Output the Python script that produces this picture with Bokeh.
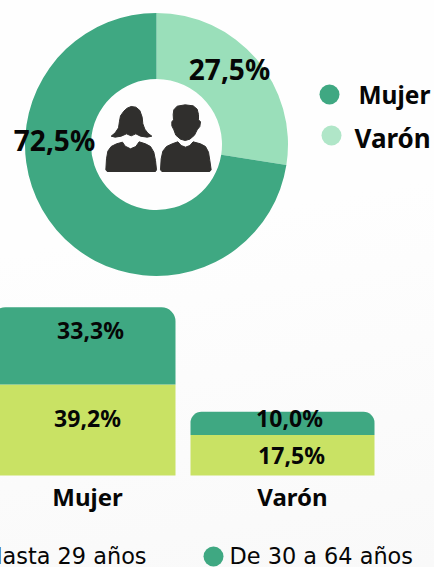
from math import pi
from bokeh.plotting import figure
from bokeh.layouts import column
from bokeh.models import Range1d
from bokeh.core.properties import value
from bokeh.embed import file_html
from bokeh.resources import INLINE

# ---- data ----
donut_labels = ["Mujer", "Varón"]
donut_values = [72.5, 27.5]
bar_categories = ["Mujer", "Varón"]
adult_values = [33.3, 10.0]     # De 30 a 64 años
young_values = [39.2, 17.5]     # Hasta 29 años
age_labels = ["Hasta 29 años", "De 30 a 64 años"]

DARK = "#3fa882"
LIGHT = "#9adfba"
LEG_LIGHT = "#b0e6c8"
LIME = "#c9e264"
INK = "#060606"
ICON = "#302f2d"
NOTO = "Noto Sans"
DEJA = "DejaVu Sans"
BLEED = 20   # panel starts this far left of the window, as the reference is cropped there


def fmt(v):
    return f"{v:.1f}%".replace(".", ",")


def base(h, xr, yr):
    p = figure(width=434 + BLEED, height=h, x_range=xr, y_range=yr, output_backend="svg",
               toolbar_location=None, min_border=0, background_fill_alpha=0,
               border_fill_alpha=0, outline_line_color=None,
               x_axis_type=None, y_axis_type=None)
    p.grid.visible = False
    return p


def text(p, x, y, s, size, style="bold", align="center", color=INK, dx=0, dy=0, font=NOTO):
    p.text(x=[x], y=[y], text=[s], text_font=value(font), text_font_size=f"{size}px",
           text_font_style=style, text_align=align, text_baseline="middle",
           text_color=color, x_offset=dx, y_offset=dy)


# ---- donut (y axis counts pixels upward inside the 290 px panel) ----
top = base(290, Range1d(-BLEED, 434), Range1d(0, 290))
cx, cy = 156, 290 - 144
frac_v = donut_values[1] / sum(donut_values)
a_split = pi / 2 - frac_v * 2 * pi
top.annular_wedge(x=[cx], y=[cy], inner_radius=65.5, outer_radius=131.5,
                  start_angle=[a_split], end_angle=[pi / 2], color=LIGHT, line_color=None)
top.annular_wedge(x=[cx], y=[cy], inner_radius=65.5, outer_radius=131.5,
                  start_angle=[pi / 2], end_angle=[a_split + 2 * pi], color=DARK, line_color=None)

text(top, 229, 290 - 68.5, fmt(donut_values[1]), 28)
text(top, 54, 290 - 139.5, fmt(donut_values[0]), 28)

top.scatter(x=[329], y=[290 - 94], size=20, color=DARK, line_color=None)
top.scatter(x=[331], y=[290 - 135], size=20, color=LEG_LIGHT, line_color=None)
text(top, 358, 290 - 94, donut_labels[0], 24.5, align="left")
text(top, 354, 290 - 137, donut_labels[1], 26, align="left")


# icon shapes traced in a 130x90 box whose corner is at (90, 90)
def icon(pts):
    top.patch([90 + a / 3 for a, b in pts], [290 - (90 + b / 3) for a, b in pts],
              color=ICON, line_color=ICON, line_width=1, line_join="round")


hair = [(100, 62), (110, 53), (122, 48), (136, 50), (148, 60), (155, 80), (157, 100), (163, 116),
        (172, 128), (184, 137), (170, 140), (150, 137), (136, 130), (122, 136), (108, 130),
        (92, 137), (74, 140), (62, 137), (74, 127), (84, 112), (87, 92), (90, 76)]
w_body = [(46, 238), (48, 205), (52, 182), (62, 168), (78, 160), (96, 155), (104, 167), (120, 175),
          (136, 168), (146, 154), (165, 160), (180, 168), (190, 185), (195, 210), (198, 238), (195, 243), (50, 243)]
m_head = [(248, 72), (250, 58), (260, 47), (284, 43), (308, 46), (320, 56), (324, 72), (324, 88),
          (330, 94), (328, 108), (320, 118), (312, 134), (298, 146), (284, 150), (270, 146),
          (256, 134), (250, 118), (244, 106), (244, 94), (249, 88)]
m_body = [(210, 238), (212, 205), (217, 182), (228, 168), (245, 160), (262, 154), (272, 165), (285, 170),
          (298, 165), (308, 154), (330, 160), (345, 168), (354, 185), (358, 210), (362, 238), (358, 243), (214, 243)]
for shape in (hair, w_body, m_head, m_body):
    icon(shape)

# ---- stacked bars: 2.32 px per percentage point, baseline at 185 px from panel top ----
px_per_unit = 2.32
step = 199
bottom = base(277, Range1d((-BLEED - 83) / step, (434 - 83) / step),
              Range1d((185 - 277) / px_per_unit, 185 / px_per_unit))
xs = list(range(len(bar_categories)))
radii = [14, 11]
bar_w = 184 / step
bottom.vbar(x=xs, bottom=0, top=young_values, width=bar_w, color=LIME, line_color=None)
for i in xs:
    bottom.vbar(x=[i], bottom=[young_values[i]], top=[young_values[i] + adult_values[i]], width=bar_w,
                color=DARK, line_color=None, border_radius=(radii[i], radii[i], 0, 0))

young_dx, young_dy = [4, 9], [-12, 0]
adult_dx, adult_dy = [7, 7], [16, 5]
for i in xs:
    text(bottom, i, young_values[i] / 2, fmt(young_values[i]), 23, dx=young_dx[i], dy=young_dy[i])
    text(bottom, i, young_values[i] + adult_values[i] / 2, fmt(adult_values[i]), 23,
         dx=adult_dx[i], dy=-adult_dy[i])
cat_dx = [4, 10]
for i in xs:
    text(bottom, i, 0, bar_categories[i], 24, dx=cat_dx[i], dy=21)

# age legend
bottom.scatter(x=[(213 - 83) / step], y=[(185 - 266) / px_per_unit], size=20, color=DARK, line_color=None)
text(bottom, (146 - 83) / step, (185 - 265) / px_per_unit, age_labels[0], 22.4, style="normal", align="right", font=DEJA)
text(bottom, (229 - 83) / step, (185 - 265) / px_per_unit, age_labels[1], 22.4, style="normal", align="left", font=DEJA)

page = column(top, bottom, spacing=0,
              styles={"position": "fixed", "left": f"-{BLEED}px", "top": "0",
                      "background": "linear-gradient(170deg,#fefefe 40%,#f9f9f9 100%)"})
open("out.html", "w").write(file_html(page, INLINE))
